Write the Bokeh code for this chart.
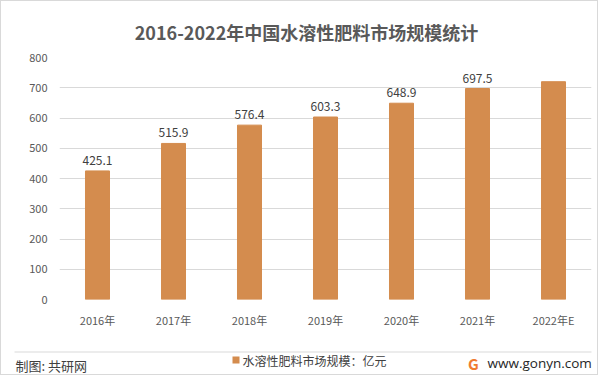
from bokeh.plotting import figure
from bokeh.models import ColumnDataSource, FixedTicker, LabelSet
from bokeh.layouts import column
from bokeh.core.properties import value
from bokeh.embed import file_html
from bokeh.resources import INLINE

years = ["2016年", "2017年", "2018年", "2019年", "2020年", "2021年", "2022年E"]
values = [425.1, 515.9, 576.4, 603.3, 648.9, 697.5, 720.0]
labels = ["425.1", "515.9", "576.4", "603.3", "648.9", "697.5", ""]
y_ticks = [0, 100, 200, 300, 400, 500, 600, 700, 800]

title_text = "2016-2022年中国水溶性肥料市场规模统计"
legend_text = "水溶性肥料市场规模：亿元"
source_text = "制图: 共研网"
site_text = "www.gonyn.com"

BAR = "#D48C4E"
FONT = "Noto Sans CJK SC"
W = 596


def pixel_fig(h):
    f = figure(width=W, height=h, x_range=(0, W), y_range=(h, 0),
               x_axis_type=None, y_axis_type=None, frame_align=False,
               output_backend="svg", toolbar_location=None,
               min_border_left=0, min_border_right=0, min_border_top=0, min_border_bottom=0)
    f.grid.visible = False
    f.outline_line_color = None
    f.background_fill_color = "white"
    f.border_fill_color = "white"
    return f


# header
HH = 47
head = pixel_fig(HH)
head.text(x=[305], y=[30], text=[title_text], text_align="center", text_baseline="middle",
          text_font=value(FONT), text_font_size="18px", text_font_style="bold", text_color="#595959")

# chart
src = ColumnDataSource(dict(x=years, top=values, lab=labels))
p = figure(width=W, height=292, x_range=years, y_range=(0, 800), frame_align=False,
           output_backend="svg", toolbar_location=None,
           min_border_left=58, min_border_right=6, min_border_top=9, min_border_bottom=41)
p.outline_line_color = None
p.background_fill_color = "white"
p.border_fill_color = "white"

p.vbar(x="x", top="top", width=0.316, source=src, color=BAR)

ls = LabelSet(x="x", y="top", text="lab", source=src, text_align="center",
              text_baseline="bottom", y_offset=6, text_font_size="12px",
              text_color="#404040", text_font=value(FONT))
p.add_layout(ls)

p.xgrid.grid_line_color = None
p.ygrid.grid_line_color = "#d9d9d9"
p.ygrid.grid_line_width = 1
p.yaxis.ticker = FixedTicker(ticks=y_ticks)
for ax in (p.xaxis[0], p.yaxis[0]):
    ax.axis_line_color = None
    ax.major_tick_line_color = None
    ax.minor_tick_line_color = None
    ax.major_tick_out = 0
    ax.major_tick_in = 0
    ax.minor_tick_out = 0
    ax.major_label_text_font = FONT
    ax.major_label_text_color = "#595959"
    ax.major_label_text_font_size = "11px"
p.xaxis.major_label_standoff = 12
p.yaxis.major_label_standoff = 12

# footer
FH = 34
foot = pixel_fig(FH)
foot.segment(x0=[13], y0=[11.5], x1=[590], y1=[11.5], line_color="#d9d9d9", line_width=1)
foot.text(x=[14], y=[25], text=[source_text], text_align="left", text_baseline="middle",
          text_font=value(FONT), text_font_size="13px", text_color="#404040")
foot.quad(left=[231], right=[238], top=[16], bottom=[23], fill_color=BAR, line_color=None)
foot.text(x=[241], y=[20], text=[legend_text], text_align="left", text_baseline="middle",
          text_font=value(FONT), text_font_size="12px", text_color="#404040")
foot.text(x=[472], y=[23], text=["G"], text_align="center", text_baseline="middle",
          text_font=value(FONT), text_font_size="15px", text_font_style="bold", text_color="#F07C32")
foot.text(x=[486], y=[22], text=[site_text], text_align="left", text_baseline="middle",
          text_font=value("Open Sans"), text_font_size="13.5px", text_color="#262626")

layout = column(head, p, foot, spacing=0,
                styles={"border": "1px solid #d9d9d9", "background-color": "white"})

open("out.html", "w").write(file_html(layout, INLINE))
